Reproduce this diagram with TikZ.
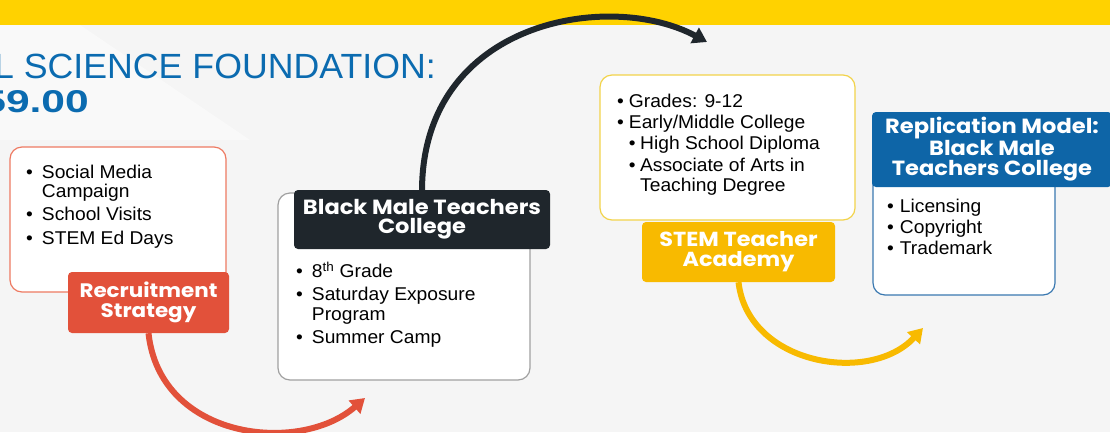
\documentclass[tikz,border=0pt]{standalone}
\usepackage{fontspec}
\setmainfont{Liberation Sans}[FakeStretch=1.04]
\newfontfamily\headfont{Poppins}[FakeStretch=1.1]
\newfontfamily\bannerfont{Liberation Sans}[FakeStretch=1.02]
\newfontfamily\sumfont{Liberation Sans}[FakeStretch=1.35]
\usetikzlibrary{arrows.meta}
\definecolor{bandyellow}{HTML}{FFD200}
\definecolor{titleblue}{HTML}{0B6BB0}
\definecolor{recred}{HTML}{E2513A}
\definecolor{recline}{HTML}{EE7A62}
\definecolor{bmdark}{HTML}{1F262C}
\definecolor{bmline}{HTML}{A0A0A0}
\definecolor{stemgold}{HTML}{F8BA00}
\definecolor{stemline}{HTML}{F2D34A}
\definecolor{repblue}{HTML}{0E65A7}
\definecolor{repline}{HTML}{3A78B0}
\definecolor{pagebg}{HTML}{F5F5F5}

\begin{document}
\begin{tikzpicture}[x=1pt,y=-1pt,>={Triangle[length=14pt,width=17pt]},
  panel/.style={draw,fill=white,rounded corners=12pt,line width=1.2pt,inner sep=0pt},
  tag/.style={rounded corners=4pt,inner sep=0pt,text=white,align=center},
  pts/.style={anchor=north west,inner sep=0pt,align=left,font=\fontsize{18.5}{19.5}\selectfont},
  flow/.style={->,line width=6pt}]
\clip (0,0) rectangle (1110,432);
\fill[pagebg] (0,0) rectangle (1110,432);
\fill[white,opacity=0.45] (0,25) -- (80,25) -- (250,140) -- (0,140) -- cycle;
\fill[bandyellow] (0,0) rectangle (1110,25);

% heading, cut off at the left edge
\node[anchor=base east,inner sep=0pt,text=titleblue,font=\bannerfont\fontsize{35}{35}\selectfont]
  (head) at (436,78) {L SCIENCE FOUNDATION:};
\node[anchor=base east,inner sep=0pt,text=titleblue,font=\sumfont\bfseries\fontsize{31.5}{32}\selectfont]
  (amount) at (89,112.5) {59.00};

% outlined panels
\node[panel,draw=recline,minimum width=216pt,minimum height=145pt] (rbox) at (118,219.5) {};
\node[panel,draw=bmline,minimum width=252pt,minimum height=187pt] (bmbox) at (404,286.5) {};
\node[panel,draw=stemline,minimum width=255pt,minimum height=145pt] (stbox) at (727.5,147.5) {};
\node[panel,draw=repline,minimum width=182pt,minimum height=135pt] (repbox) at (964,227.5) {};

% title tags
\node[tag,fill=recred,minimum width=161pt,minimum height=61pt,
  font=\headfont\bfseries\fontsize{19.5}{20}\selectfont] (rlab) at (148.5,302.5) {Recruitment\\Strategy};
\node[tag,fill=bmdark,minimum width=256pt,minimum height=59pt,
  font=\headfont\bfseries\fontsize{20.5}{19}\selectfont] (bmlab) at (422,219.5) {Black Male Teachers\\College};
\node[tag,fill=stemgold,minimum width=193pt,minimum height=60pt,
  font=\headfont\bfseries\fontsize{20.3}{20}\selectfont] (stlab) at (738.5,252) {STEM Teacher\\Academy};
\node[tag,fill=repblue,minimum width=240pt,minimum height=75pt,
  font=\headfont\bfseries\fontsize{20.5}{20.5}\selectfont] (replab) at (992,149.5)
  {Replication Model:\\Black Male\\Teachers College};

% bullet lists
\node[pts] (rtext) at (26,164.5) {\begin{tabular}{@{}l@{\hspace{9pt}}l@{}}
  \textbullet & Social Media\\ & Campaign\\[3.5pt]
  \textbullet & School Visits\\[4pt]
  \textbullet & STEM Ed Days
\end{tabular}};
\node[pts] (bmtext) at (296,262) {\begin{tabular}{@{}l@{\hspace{9pt}}l@{}}
  \textbullet & 8\textsuperscript{th} Grade\\[3.5pt]
  \textbullet & Saturday Exposure\\ & Program\\[4pt]
  \textbullet & Summer Camp
\end{tabular}};
\node[pts] (sttext) at (617,93.5) {\begin{tabular}{@{}l@{\hspace{5pt}}l@{\hspace{4.5pt}}l@{}}
  \textbullet & \multicolumn{2}{@{}l@{}}{Grades: 9-12}\\[1.5pt]
  \textbullet & \multicolumn{2}{@{}l@{}}{Early/Middle College}\\[1.5pt]
  & \textbullet & High School Diploma\\[2.5pt]
  & \textbullet & Associate of Arts in\\[0.5pt]
  & & Teaching Degree
\end{tabular}};
\node[pts] (reptext) at (887,198.5) {\begin{tabular}{@{}l@{\hspace{6pt}}l@{}}
  \textbullet & Licensing\\[1.5pt]
  \textbullet & Copyright\\[1.5pt]
  \textbullet & Trademark
\end{tabular}};

% curved arrows between the stages
\coordinate (rend) at (365,398);
\coordinate (bmend) at (707,42);
\coordinate (stend) at (923,328);
\draw[flow,recred] (rlab.south) .. controls (160,440) and (300,455) .. (rend);
\draw[flow,bmdark] (bmlab.north) .. controls (423,20) and (610,-10) .. (bmend);
\draw[flow,stemgold] (stlab.south) .. controls (748,365) and (870,385) .. (stend);
\end{tikzpicture}
\end{document}
